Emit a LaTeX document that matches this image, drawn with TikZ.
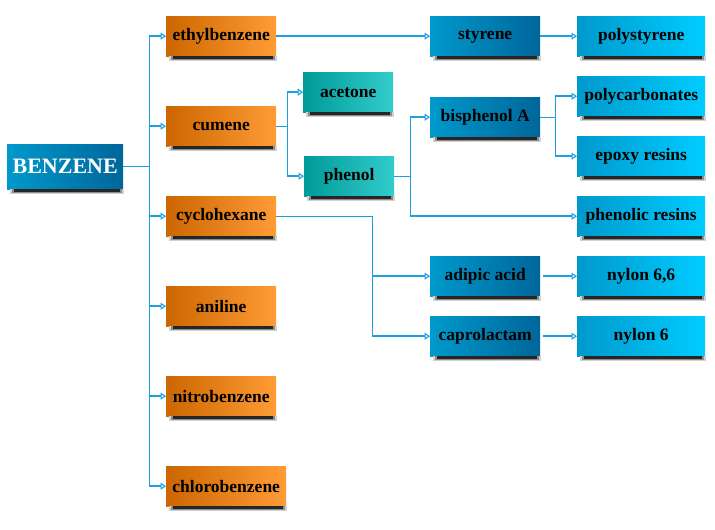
\documentclass[tikz,border=0pt]{standalone}
\usepackage{fontspec}
\setmainfont{Liberation Serif}
\usetikzlibrary{arrows.meta}
\definecolor{orL}{HTML}{CC6600}
\definecolor{orR}{HTML}{FF9C35}
\definecolor{bdL}{HTML}{0099CC}
\definecolor{bdR}{HTML}{00669A}
\definecolor{tlL}{HTML}{009A99}
\definecolor{tlR}{HTML}{33CCCC}
\definecolor{lbL}{HTML}{0099CC}
\definecolor{lbR}{HTML}{00CCFF}
\definecolor{linec}{HTML}{1BA1E2}
\newcommand\boxshadow[1]{%
  \fill[black!18] ([xshift=3pt]#1.south west) rectangle ([xshift=1pt,yshift=-5pt]#1.south east);
  \fill[black!45] ([xshift=5pt]#1.south west) rectangle ([xshift=-1pt,yshift=-3.8pt]#1.south east);
  \fill[black!85] ([xshift=7pt]#1.south west) rectangle ([xshift=-3pt,yshift=-2.6pt]#1.south east);}
\tikzset{
  box/.style={anchor=north west, minimum height=40pt, inner sep=0pt,
    font=\fontsize{17.5}{19}\selectfont\bfseries, text=black},
  orbox/.style={box, left color=orL, right color=orR, minimum width=110pt},
  bdbox/.style={box, left color=bdL, right color=bdR, minimum width=110pt},
  tlbox/.style={box, left color=tlL, right color=tlR, minimum width=90pt},
  lbbox/.style={box, left color=lbL, right color=lbR, minimum width=128pt},
  ln/.style={draw=linec, line width=1pt},
  arr/.style={draw=linec, line width=1.7pt, -{Triangle[open, length=5.5pt, width=7pt, line width=1.1pt]}},
}
\begin{document}
\begin{tikzpicture}[x=1pt,y=-1pt]
\useasboundingbox (0,0) rectangle (715,530);
% nodes
\node[box, left color=bdL, right color=bdR, minimum width=116pt, minimum height=45pt,
      text=white, font=\fontsize{22}{24}\selectfont\bfseries] (ben) at (7,144) {BENZENE};
\node[orbox] (eth) at (166,16) {ethylbenzene};
\node[orbox] (cum) at (166,106) {cumene};
\node[orbox] (cyc) at (166,196) {cyclohexane};
\node[orbox] (ani) at (166,286) {aniline};
\node[orbox] (nit) at (166,376) {nitrobenzene};
\node[orbox, minimum width=120pt] (chl) at (166,466) {chlorobenzene};
\node[tlbox] (ace) at (303,72) {acetone};
\node[tlbox] (phe) at (304,156) {phenol};
\node[bdbox] (sty) at (430,16) {styrene};
\node[bdbox] (bis) at (430,97) {bisphenol A};
\node[bdbox] (adi) at (430,256) {adipic acid};
\node[bdbox] (cap) at (430,316) {caprolactam};
\node[lbbox] (pst) at (577,16) {polystyrene};
\node[lbbox] (pcb) at (577,76) {polycarbonates};
\node[lbbox] (epo) at (577,136) {epoxy resins};
\node[lbbox] (phr) at (577,196) {phenolic resins};
\node[lbbox] (n66) at (577,256) {nylon 6,6};
\node[lbbox] (n6) at (577,316) {nylon 6};
% shadows
\foreach \n in {ben,eth,cum,cyc,ani,nit,chl,ace,phe,sty,bis,adi,cap,pst,pcb,epo,phr,n66,n6}{\boxshadow{\n}}
% trunk coordinates
\coordinate (tb) at (149,0);
\coordinate (tc) at (287,0);
\coordinate (tp) at (410,0);
\coordinate (tbi) at (555,0);
\coordinate (ty) at (372,0);
% benzene
\draw[ln] (ben.east) -- (ben.east -| tb);
\draw[ln] (tb |- eth.west) -- (tb |- chl.west);
\foreach \n in {eth,cum,cyc,ani,nit,chl}{\draw[arr] ([xshift=-0.5pt]tb |- \n.west) -- (\n.west);}
% ethylbenzene
\draw[arr] (eth.east) -- (sty.west);
\draw[arr] (sty.east) -- (pst.west);
% cumene
\draw[ln] (cum.east) -- (cum.east -| tc);
\draw[ln] (tc |- ace.west) -- (tc |- phe.west);
\draw[arr] ([xshift=-0.5pt]tc |- ace.west) -- (ace.west);
\draw[arr] ([xshift=-0.5pt]tc |- phe.west) -- (phe.west);
% phenol
\draw[ln] (phe.east) -- (phe.east -| tp);
\draw[ln] (tp |- bis.west) -- (tp |- phr.west);
\draw[arr] ([xshift=-0.5pt]tp |- bis.west) -- (bis.west);
\draw[arr] ([xshift=-0.5pt]tp |- phr.west) -- (phr.west);
% bisphenol
\draw[ln] (bis.east) -- (bis.east -| tbi);
\draw[ln] (tbi |- pcb.west) -- (tbi |- epo.west);
\draw[arr] ([xshift=-0.5pt]tbi |- pcb.west) -- (pcb.west);
\draw[arr] ([xshift=-0.5pt]tbi |- epo.west) -- (epo.west);
% cyclohexane
\draw[ln] (cyc.east) -- (cyc.east -| ty) -- (ty |- cap.west);
\draw[arr] ([xshift=-0.5pt]ty |- adi.west) -- (adi.west);
\draw[arr] ([xshift=-0.5pt]ty |- cap.west) -- (cap.west);
% products
\draw[arr] ([xshift=3pt]adi.east) -- (n66.west);
\draw[arr] ([xshift=3pt]cap.east) -- (n6.west);
\end{tikzpicture}
\end{document}
